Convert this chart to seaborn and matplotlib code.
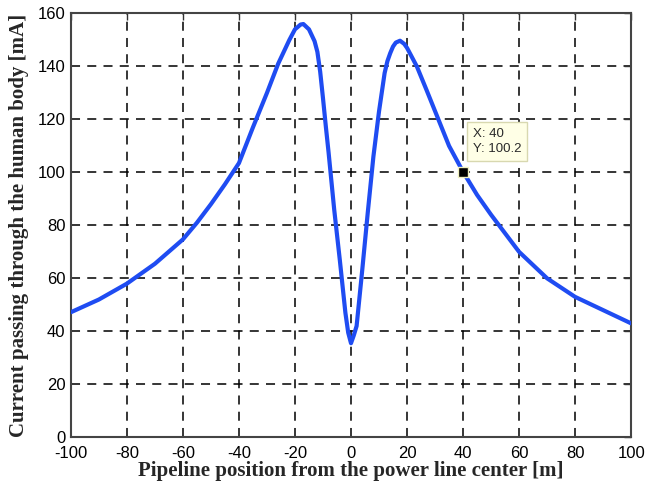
import matplotlib
matplotlib.use("Agg")
import matplotlib.pyplot as plt
import seaborn as sns
import pandas as pd

# pipeline position [m] and body current [mA]
position = [-100, -90, -80, -70, -60, -55, -50, -45, -40, -35, -30, -26, -22, -20,
            -18, -17, -15, -13, -12, -11, -10, -9, -8, -6, -4, -2, -1, 0, 1, 2, 4, 6, 8, 10,
            12, 13, 14, 15, 16, 17.5, 19, 20, 21.5, 23.5, 27, 31, 35, 40, 45, 50, 55, 60,
            70, 80, 90, 100]
current = [47.2, 52, 58, 65.5, 74.7, 81, 88, 95.5, 103.5, 117, 130, 141, 150, 154,
           155.8, 156, 154, 149.5, 145.5, 138, 128, 117.5, 107.5, 86, 67, 47, 39.5, 35.5,
           38.5, 42, 63, 85, 106, 123,
           137.5, 142, 145, 147.5, 149, 149.7, 148.5, 147, 144, 140, 131, 120.5, 110, 100.2,
           91.5, 84, 77, 70, 60, 53, 48, 43]

tip_x = 40
tip_y = 100.2

xticks = list(range(-100, 101, 20))
yticks = list(range(0, 161, 20))

df = pd.DataFrame({"x": position, "y": current})

sns.set_style("white")
plt.rcParams["axes.unicode_minus"] = False
fig = plt.figure(figsize=(6.5, 4.94), dpi=100)
ax = fig.add_axes([0.109, 0.1148, 0.862, 0.858])

sns.lineplot(data=df, x="x", y="y", ax=ax, color="#1f4cf2", linewidth=3, zorder=3)

# data tip
ax.plot([tip_x], [tip_y], marker="s", markersize=7, color="black",
        markeredgecolor="#f0f0c0", markeredgewidth=1, zorder=5)
ax.annotate("X: %d\nY: %.1f" % (tip_x, tip_y), xy=(tip_x, tip_y), xytext=(7, 12),
            textcoords="offset points", ha="left", va="bottom", fontsize=9.5,
            family="Liberation Sans", color="#2a2a2a", linespacing=1.35,
            bbox=dict(boxstyle="square,pad=0.45", facecolor="#ffffe6", edgecolor="#d8d8b0", lw=1),
            zorder=6)

ax.set_xlim(-100, 100)
ax.set_ylim(0, 160)
ax.set_xticks(xticks)
ax.set_yticks(yticks)
ax.tick_params(direction="in", length=5, width=1, top=True, right=True,
               labelsize=12, colors="#333333", labelcolor="black")
ax.tick_params(axis="x", pad=6)
ax.tick_params(axis="y", pad=4)
for lab in ax.get_xticklabels() + ax.get_yticklabels():
    lab.set_family("Liberation Sans")

ax.grid(True, color="black", linestyle=(0, (5, 4)), linewidth=1.3, alpha=0.85)
for s in ax.spines.values():
    s.set_color("#444444")
    s.set_linewidth(1.5)

ax.set_xlabel("Pipeline position from the power line center [m]", family="Liberation Serif",
              fontweight="bold", fontsize=15, labelpad=0)
ax.set_ylabel("Current passing through the human body [mA]", family="Liberation Serif",
              fontweight="bold", fontsize=15, labelpad=6)

fig.savefig("out.png", dpi=100)
